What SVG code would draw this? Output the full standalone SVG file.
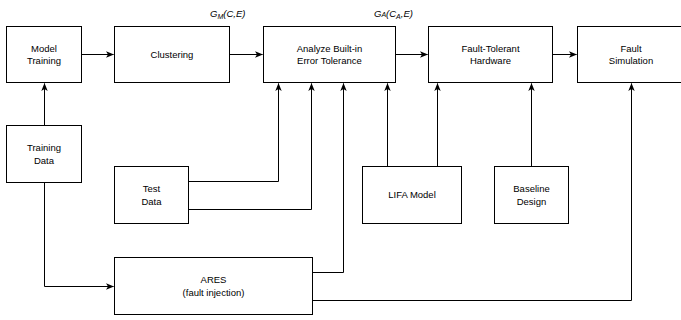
<svg xmlns="http://www.w3.org/2000/svg" width="681" height="320" viewBox="0 0 681 320">
  <style>
    .box { fill: #ffffff; stroke: #000000; stroke-width: 1; }
    .lbl { font-family: "Liberation Sans", Arial, sans-serif; font-size: 9.5px; fill: #000000; text-anchor: middle; }
    .math { font-family: "Liberation Sans", Arial, sans-serif; font-size: 9.5px; font-style: italic; fill: #000000; }
    .sub { font-size: 7px; }
    .edge { fill: none; stroke: #000000; stroke-width: 1; }
  </style>
  <defs>
    <marker id="arrow" viewBox="0 0 8 8" refX="7.5" refY="4" markerWidth="8" markerHeight="8" markerUnits="userSpaceOnUse" orient="auto">
      <path d="M0,0.8 L8,4 L0,7.2 L2,4 Z" fill="#000000"/>
    </marker>
  </defs>

  <rect width="681" height="320" fill="#ffffff"/>

  <g id="connectors">
    <path class="edge" d="M81,54.5 H113.5" marker-end="url(#arrow)"/>
    <path class="edge" d="M230,54.5 H262.5" marker-end="url(#arrow)"/>
    <path class="edge" d="M396,54.5 H427.5" marker-end="url(#arrow)"/>
    <path class="edge" d="M553,54.5 H576.5" marker-end="url(#arrow)"/>
    <path class="edge" d="M44.5,125 V83.5" marker-end="url(#arrow)"/>
    <path class="edge" d="M44.5,183 V286.5 H113.5" marker-end="url(#arrow)"/>
    <path class="edge" d="M189,181.5 H278.5 V83.5" marker-end="url(#arrow)"/>
    <path class="edge" d="M189,209.5 H311.5 V83.5" marker-end="url(#arrow)"/>
    <path class="edge" d="M313,272.5 H343.5 V83.5" marker-end="url(#arrow)"/>
    <path class="edge" d="M387.5,166 V83.5" marker-end="url(#arrow)"/>
    <path class="edge" d="M437.5,166 V83.5" marker-end="url(#arrow)"/>
    <path class="edge" d="M531.5,166 V83.5" marker-end="url(#arrow)"/>
    <path class="edge" d="M313,300.5 H631.5 V83.5" marker-end="url(#arrow)"/>
  </g>

  <g id="model-training">
    <rect class="box" x="6.5" y="26.5" width="75" height="56"/>
    <text class="lbl" x="44" y="51.5">Model</text>
    <text class="lbl" x="44" y="64">Training</text>
  </g>
  <g id="clustering">
    <rect class="box" x="114.5" y="26.5" width="115" height="56"/>
    <text class="lbl" x="172" y="57.5">Clustering</text>
  </g>
  <g id="analyze">
    <rect class="box" x="263.5" y="26.5" width="132" height="56"/>
    <text class="lbl" x="329.5" y="51.5">Analyze Built-in</text>
    <text class="lbl" x="329.5" y="64">Error Tolerance</text>
  </g>
  <g id="fault-tolerant-hardware">
    <rect class="box" x="428.5" y="26.5" width="124" height="56"/>
    <text class="lbl" x="490.5" y="51.5">Fault-Tolerant</text>
    <text class="lbl" x="490.5" y="64">Hardware</text>
  </g>
  <g id="fault-simulation">
    <rect class="box" x="577.5" y="26.5" width="108" height="56"/>
    <text class="lbl" x="631" y="51.5">Fault</text>
    <text class="lbl" x="631" y="64">Simulation</text>
  </g>
  <g id="training-data">
    <rect class="box" x="6.5" y="125.5" width="75" height="57"/>
    <text class="lbl" x="44" y="151">Training</text>
    <text class="lbl" x="44" y="163.5">Data</text>
  </g>
  <g id="test-data">
    <rect class="box" x="114.5" y="166.5" width="74" height="57"/>
    <text class="lbl" x="151.5" y="192">Test</text>
    <text class="lbl" x="151.5" y="204.5">Data</text>
  </g>
  <g id="lifa-model">
    <rect class="box" x="362.5" y="166.5" width="99" height="57"/>
    <text class="lbl" x="412" y="198">LIFA Model</text>
  </g>
  <g id="baseline-design">
    <rect class="box" x="494.5" y="166.5" width="74" height="57"/>
    <text class="lbl" x="531.5" y="192">Baseline</text>
    <text class="lbl" x="531.5" y="204.5">Design</text>
  </g>
  <g id="ares">
    <rect class="box" x="114.5" y="257.5" width="198" height="57"/>
    <text class="lbl" x="213.5" y="282.5">ARES</text>
    <text class="lbl" x="213.5" y="295.5">(fault injection)</text>
  </g>

  <g id="edge-labels">
    <text class="math" x="210" y="16.5">G<tspan class="sub" dy="2">M</tspan><tspan dy="-2">(C,E)</tspan></text>
    <text class="math" x="374" y="16.5">G<tspan class="sub" dy="0.5">A</tspan><tspan dy="-0.5">(C</tspan><tspan class="sub" dy="2">A</tspan><tspan dy="-2">,E)</tspan></text>
  </g>
</svg>
